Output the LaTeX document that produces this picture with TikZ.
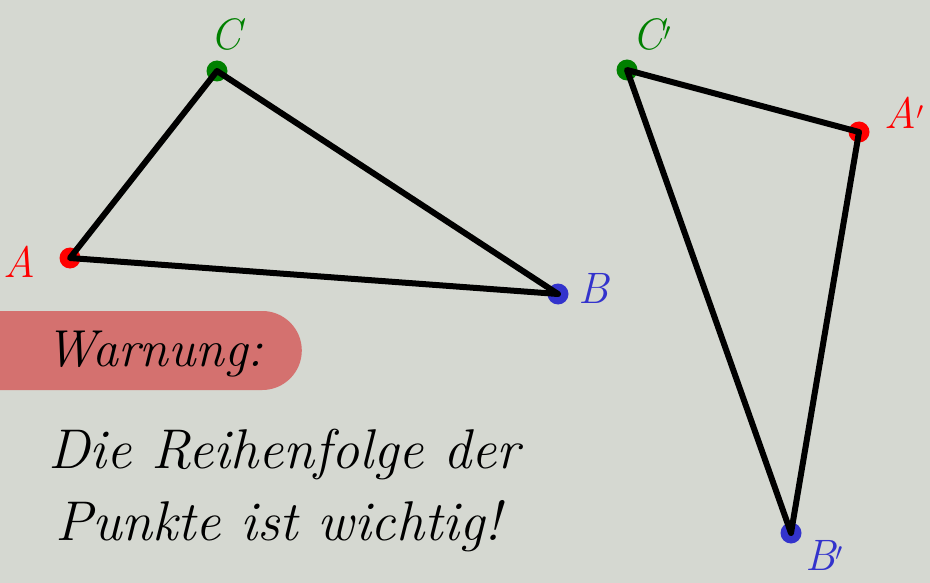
\documentclass[tikz,border=0pt]{standalone}
\usepackage{fontspec}
\usetikzlibrary{positioning}
\definecolor{board}{RGB}{213,216,209}
\definecolor{warnred}{RGB}{212,113,111}
\definecolor{ptred}{RGB}{255,0,0}
\definecolor{ptgreen}{RGB}{0,128,0}
\definecolor{ptblue}{RGB}{51,51,204}
\tikzset{
  pt/.style={circle,fill=#1,inner sep=0pt,minimum size=21pt},
  ptlabel/.style={text=#1,anchor=base,inner sep=0pt,font=\fontsize{44}{44}\selectfont\itshape},
  side/.style={line width=6pt,line cap=round,line join=round},
  hand/.style={anchor=base west,inner sep=0pt,font=\fontsize{#1}{#1}\selectfont\itshape}
}

\begin{document}
\begin{tikzpicture}[x=1pt,y=-1pt]
    \fill[board] (0,0) rectangle (930,583);
    \useasboundingbox (0,0) rectangle (930,583);

    % first triangle
    \node[pt=ptred] (A) at (70,258) {};
    \node[pt=ptgreen] (C) at (217,71) {};
    \node[pt=ptblue] (B) at (558,294) {};
    \draw[side] (A.center) -- (C.center) -- (B.center) -- cycle;
    \node[ptlabel=ptred] (labA) at (19,277) {A};
    \node[ptlabel=ptgreen] (labC) at (226,50) {C};
    \node[ptlabel=ptblue] (labB) at (594,303) {B};

    % second triangle
    \node[pt=ptgreen] (C') at (627,70) {};
    \node[pt=ptred] (A') at (859,132) {};
    \node[pt=ptblue] (B') at (791,533) {};
    \draw[side] (C'.center) -- (A'.center) -- (B'.center) -- cycle;
    \node[ptlabel=ptgreen] (labC') at (652,50) {C$'$};
    \node[ptlabel=ptred] (labA') at (904,129) {A$'$};
    \node[ptlabel=ptblue] (labB') at (824,570) {B$'$};

    % warning
    \node[fill=warnred,rounded corners=39.5pt,minimum height=79pt,minimum width=362pt,anchor=east] (warnbox) at (302,350.5) {};
    \node[hand=52] (warn) at (45,366) {Warnung:};
    \node[hand=56] (line1) at (48,468) {Die Reihenfolge der};
    \node[hand=56] (line2) at (55,540) {Punkte ist wichtig!};
\end{tikzpicture}
\end{document}
